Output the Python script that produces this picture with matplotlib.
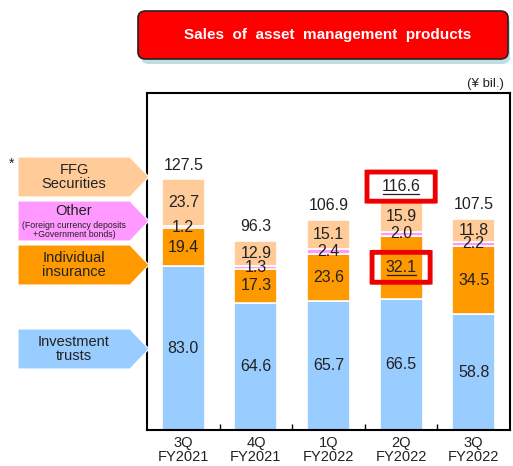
import matplotlib
matplotlib.use("Agg")
import matplotlib.pyplot as plt
from matplotlib.patches import Polygon, FancyBboxPatch
import numpy as np

plt.rcParams['font.family'] = ['Liberation Sans', 'DejaVu Sans']

categories = ["3Q\nFY2021", "4Q\nFY2021", "1Q\nFY2022", "2Q\nFY2022", "3Q\nFY2022"]
investment_trusts = [83.0, 64.6, 65.7, 66.5, 58.8]
individual_insurance = [19.4, 17.3, 23.6, 32.1, 34.5]
other = [1.2, 1.3, 2.4, 2.0, 2.2]
ffg_securities = [23.7, 12.9, 15.1, 15.9, 11.8]
totals = [127.5, 96.3, 106.9, 116.6, 107.5]
highlight_idx = 3

series = [investment_trusts, individual_insurance, other, ffg_securities]
colors = ["#99CCFF", "#FF9900", "#FF99FF", "#FFCC99"]

W, H = 513, 466
fig = plt.figure(figsize=(W / 100, H / 100), dpi=100)
ax_l, ax_r, ax_t, ax_b = 147, 510, 93, 430
ax = fig.add_axes([ax_l / W, 1 - ax_b / H, (ax_r - ax_l) / W, (ax_b - ax_t) / H])

x = np.arange(len(categories))
bw = 0.59
vfs = 11.5
bottom = np.zeros(len(categories))
for s, c in zip(series, colors):
    vals = np.array(s)
    ax.bar(x, vals, bw, bottom=bottom, color=c, edgecolor="white", linewidth=1.2)
    for i, v in enumerate(vals):
        ax.text(x[i], bottom[i] + v / 2, f"{v:.1f}", ha="center", va="center",
                fontsize=vfs, color="#222222")
    bottom += vals

for i, t in enumerate(totals):
    ax.text(x[i], bottom[i] + 7, f"{t:.1f}", ha="center", va="center",
            fontsize=vfs, color="#222222")

# highlight boxes and underlines
i = highlight_idx
ytot = bottom[i] + 7
ax.add_patch(FancyBboxPatch((x[i] - 0.47, ytot - 7.4), 0.94, 14.8,
                            boxstyle="round,pad=0,rounding_size=0.03",
                            fill=False, edgecolor="#EE0000", linewidth=3.5, zorder=5))
ax.plot([x[i] - 0.25, x[i] + 0.25], [ytot - 3.8, ytot - 3.8], color="#222222", lw=0.9)
yins = investment_trusts[i] + individual_insurance[i] / 2
ax.add_patch(FancyBboxPatch((x[i] - 0.40, yins - 7.6), 0.80, 15.2,
                            boxstyle="round,pad=0,rounding_size=0.03",
                            fill=False, edgecolor="#EE0000", linewidth=3.5, zorder=5))
ax.plot([x[i] - 0.2, x[i] + 0.2], [yins - 3.8, yins - 3.8], color="#222222", lw=0.9)

ax.set_xlim(-0.5, len(categories) - 0.5)
ax.set_ylim(0, 171)
ax.set_xticks(x)
ax.set_xticklabels(categories, fontsize=10.5, color="#222222", linespacing=1.0)
ax.tick_params(axis="x", which="major", length=0, pad=4)
ax.set_xticks(x[:-1] + 0.5, minor=True)
ax.tick_params(axis="x", which="minor", length=4, direction="in", width=1)
ax.set_yticks([])
for sp in ax.spines.values():
    sp.set_linewidth(1.5)
    sp.set_color("black")

def fx(px):
    return px / W
def fy(py):
    return 1 - py / H

# title box
shadow = FancyBboxPatch((fx(141), fy(64)), fx(510) - fx(141), fy(16) - fy(64),
                        boxstyle="round,pad=0,rounding_size=0.015",
                        transform=fig.transFigure, facecolor="#BFDDE3", edgecolor="none")
fig.patches.append(shadow)
tbox = FancyBboxPatch((fx(138), fy(59)), fx(508) - fx(138), fy(11) - fy(59),
                      boxstyle="round,pad=0,rounding_size=0.015",
                      transform=fig.transFigure, facecolor="#FF0000", edgecolor="#222222",
                      linewidth=1.2)
fig.patches.append(tbox)
fig.text(fx(328), fy(35), "Sales  of  asset  management  products", ha="center", va="center",
         fontsize=11, fontweight="bold", color="white")
fig.text(fx(504), fy(84), "(¥ bil.)", ha="right", va="center", fontsize=9.5, color="#222222")

# left arrow legends
legend_items = [
    ("FFG\nSecurities", "#FFCC99", 157, 197),
    ("Other", "#FF99FF", 201, 241),
    ("Individual\ninsurance", "#FF9900", 245, 285),
    ("Investment\ntrusts", "#99CCFF", 329, 369),
]
for label, col, y0, y1 in legend_items:
    xl, xm, xr = 18, 130, 149
    ym = (y0 + y1) / 2
    pts = [(fx(xl), fy(y0)), (fx(xm), fy(y0)), (fx(xr), fy(ym)), (fx(xm), fy(y1)), (fx(xl), fy(y1))]
    fig.patches.append(Polygon(pts, closed=True, transform=fig.transFigure,
                               facecolor=col, edgecolor="white", linewidth=0.8))
    if label == "Other":
        fig.text(fx(74), fy(211), label, ha="center", va="center", fontsize=10.5, color="#222222")
        fig.text(fx(74), fy(230), "(Foreign currency deposits\n+Government bonds)",
                 ha="center", va="center", fontsize=6.3, color="#222222", linespacing=1.05)
    else:
        fig.text(fx(74), fy(ym), label, ha="center", va="center", fontsize=10.5,
                 color="#222222", linespacing=1.05)
fig.text(fx(12), fy(164), "*", ha="center", va="center", fontsize=10, color="#222222")

fig.savefig("out.png", dpi=100)
